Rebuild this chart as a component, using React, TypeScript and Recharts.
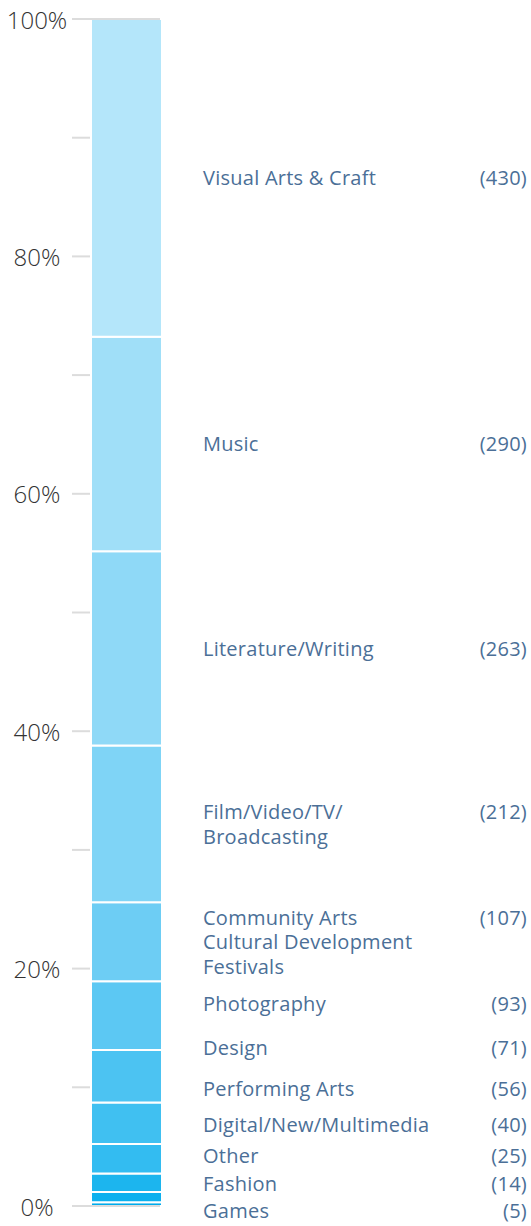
import { BarChart, Bar, XAxis, YAxis, LabelList } from 'recharts'

// bottom of the stack first
const LABELS: string[][] = [
  ['Games'],
  ['Fashion'],
  ['Other'],
  ['Digital/New/Multimedia'],
  ['Performing Arts'],
  ['Design'],
  ['Photography'],
  ['Community Arts', 'Cultural Development', 'Festivals'],
  ['Film/Video/TV/', 'Broadcasting'],
  ['Literature/Writing'],
  ['Music'],
  ['Visual Arts & Craft'],
]
const COUNTS = [5, 14, 25, 40, 56, 71, 93, 107, 212, 263, 290, 430]
const COLORS = [
  '#00ABEC', '#0DB0EE', '#1CB5EE', '#33BCF1', '#40C0F1', '#4CC3F2',
  '#5CC8F3', '#6DCDF4', '#7FD4F6', '#8FD9F7', '#A0DFF8', '#B4E6FA',
]
const PCT_TICKS = [0, 0.1, 0.2, 0.3, 0.4, 0.5, 0.6, 0.7, 0.8, 0.9, 1]

const CHART_W = 531
const CHART_H = 1226
const MARGIN = { top: 19, right: 350, bottom: 20, left: 0 }
const PLOT_H = CHART_H - MARGIN.top - MARGIN.bottom
const LINE_H = 24.5
const LABEL_COLOR = '#4B6F97'
const FONT = '"Open Sans", Roboto, "Liberation Sans", sans-serif'

const row: Record<string, number | string> = { name: 'all' }
COUNTS.forEach((c, i) => { row[`k${i}`] = c })
const data = [row]

const total = COUNTS.reduce((a, b) => a + b, 0)
const starts: number[] = []
COUNTS.reduce((acc, c, i) => { starts[i] = acc / total; return acc + c }, 0)

// soft spreading of labels (px above the axis): springs to segment centres + soft collisions
const labelPos = (() => {
  const c = COUNTS.map((v, i) => (starts[i] + v / total / 2) * PLOT_H)
  const u = c.slice()
  const half = LABELS.map((l) => (l.length > 1 ? 10 : 23) + (l.length - 1) * LINE_H / 2)
  const ka = 0.13
  for (let it = 0; it < 20000; it++) {
    const g = u.map((v, i) => ka * (v - c[i]))
    for (let i = 0; i < u.length - 1; i++) {
      const o = half[i] + half[i + 1] - (u[i + 1] - u[i])
      if (o > 0) { g[i] += o; g[i + 1] -= o }
    }
    for (let i = 0; i < u.length; i++) u[i] -= 0.3 * g[i]
    if (u[0] < -4) u[0] = -4
  }
  return u
})()

const PctTick = (props: any) => {
  const { x, y, payload } = props
  const v = payload.value as number
  const edge = v === 0 || v === 1
  const showLabel = Math.round(v * 10) % 2 === 0
  return (
    <g>
      <line x1={x} x2={x + (edge ? 88 : 18)} y1={y} y2={y} stroke="#DCDCDC" strokeWidth={2} />
      {showLabel && (
        <text x={x - 35} y={y} textAnchor="middle" dominantBaseline="central"
          fontSize={24} fontWeight={300} fill="#333" fontFamily={FONT}>
          {Math.round(v * 100)}%
        </text>
      )}
    </g>
  )
}

const renderLabel = (i: number) => (props: any) => {
  const { x, y, width, height } = props
  const frac = COUNTS[i] / total
  const pxPerFrac = height / frac
  const cy = y + height - (labelPos[i] / PLOT_H - starts[i]) * pxPerFrac
  const lines = LABELS[i]
  const y0 = cy - ((lines.length - 1) * LINE_H) / 2
  return (
    <g fontFamily={FONT} fontSize={20} fontWeight={400} letterSpacing={0.25} fill={LABEL_COLOR}>
      {lines.map((t, j) => (
        <text key={j} x={x + width + 41} y={y0 + j * LINE_H} dominantBaseline="central">{t}</text>
      ))}
      <text x={CHART_W - 4} y={y0} textAnchor="end" dominantBaseline="central">({COUNTS[i]})</text>
    </g>
  )
}

export default function App() {
  return (
    <div style={{ position: 'absolute', left: 0, top: 0, background: '#fff' }}>
      <BarChart width={CHART_W} height={CHART_H} data={data} margin={MARGIN} stackOffset="expand">
        <XAxis dataKey="name" hide />
        <YAxis type="number" domain={[0, 1]} ticks={PCT_TICKS} interval={0} width={72}
          axisLine={false} tickLine={false} tickSize={0} tickMargin={0} tick={<PctTick />} />
        {COUNTS.map((_, i) => (
          <Bar key={i} dataKey={`k${i}`} stackId="a" fill={COLORS[i]} stroke="#fff" strokeWidth={2}
            barSize={71} isAnimationActive={false}>
            <LabelList content={renderLabel(i)} />
          </Bar>
        ))}
      </BarChart>
    </div>
  )
}
